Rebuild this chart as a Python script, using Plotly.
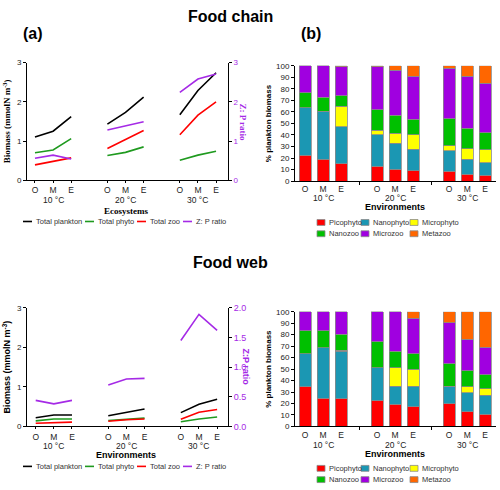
import plotly.graph_objects as go

W, H = 500, 490

groups = ["10 °C", "20 °C", "30 °C"]
envs = ["O", "M", "E"]

# ---- Food chain: biomass (mmolN m-3) and Z:P ratio ----
fc_plankton = [1.10, 1.25, 1.62, 1.43, 1.73, 2.12, 1.67, 2.29, 2.74]
fc_phyto = [0.70, 0.77, 1.06, 0.63, 0.71, 0.85, 0.51, 0.64, 0.74]
fc_zoo = [0.39, 0.48, 0.57, 0.81, 1.04, 1.27, 1.16, 1.66, 2.00]
fc_zp = [0.56, 0.64, 0.54, 1.28, 1.39, 1.49, 2.24, 2.58, 2.71]

# ---- Food web: biomass (mmolN m-3) and Z:P ratio ----
fw_plankton = [0.22, 0.29, 0.29, 0.27, 0.36, 0.44, 0.35, 0.56, 0.69]
fw_phyto = [0.14, 0.19, 0.19, 0.15, 0.18, 0.21, 0.12, 0.19, 0.24]
fw_zoo = [0.08, 0.10, 0.11, 0.13, 0.17, 0.19, 0.18, 0.36, 0.43]
fw_zp = [0.44, 0.38, 0.44, 0.70, 0.80, 0.81, 1.45, 1.89, 1.62]

line_names = ["Total plankton", "Total phyto", "Total zoo", "Z: P ratio"]
line_colors = ["#000000", "#1f9a1f", "#ff0000", "#a52ae6"]

# ---- % plankton biomass, food chain ----
fc_pico = [22.4, 19.0, 15.0, 13.0, 10.5, 9.0, 8.5, 6.0, 5.0]
fc_nano = [41.2, 41.5, 32.0, 27.0, 22.5, 18.5, 18.0, 13.0, 11.0]
fc_micro = [0.0, 0.0, 18.0, 4.0, 8.5, 12.5, 4.0, 9.0, 11.0]
fc_nanozoo = [13.0, 12.0, 9.0, 18.0, 15.5, 13.5, 23.5, 18.0, 15.0]
fc_microzoo = [23.4, 27.5, 25.0, 37.0, 39.0, 37.5, 44.0, 45.0, 43.0]
fc_metazoo = [0.0, 0.0, 1.0, 1.0, 4.0, 9.0, 2.0, 9.0, 15.0]

# ---- % plankton biomass, food web ----
fw_pico = [34.5, 24.5, 24.0, 22.5, 19.5, 17.0, 20.0, 13.0, 10.5]
fw_nano = [29.0, 44.0, 41.5, 28.5, 15.5, 18.0, 15.0, 16.5, 16.5]
fw_micro = [0.0, 0.0, 0.8, 0.0, 16.0, 15.0, 0.0, 5.0, 6.0]
fw_nanozoo = [20.0, 15.0, 14.2, 23.0, 14.5, 13.5, 19.5, 14.0, 12.0]
fw_microzoo = [16.5, 16.5, 19.5, 26.0, 34.5, 31.0, 36.0, 27.5, 24.0]
fw_metazoo = [0.0, 0.0, 0.0, 0.0, 0.0, 5.5, 9.5, 24.0, 31.0]

bar_names = ["Picophyto", "Nanophyto", "Microphyto", "Nanozoo", "Microzoo", "Metazoo"]
bar_colors = ["#ff0000", "#1b97b3", "#ffff00", "#00c000", "#a000e0", "#ff6600"]

FONT = "Liberation Sans, Arial, sans-serif"
SERIF = "Liberation Serif, Times New Roman, serif"
PURPLE = "#a52ae6"

# positions: group index * 4 + env index
xpos = [g * 4 + i for g in range(len(groups)) for i in range(len(envs))]
gcenter = [g * 4 + 1 for g in range(len(groups))]


def broken(xs, ys):
    """Insert gaps between temperature groups so lines are drawn per group."""
    ox, oy = [], []
    for k, (x, y) in enumerate(zip(xs, ys)):
        if k > 0 and k % 3 == 0:
            ox.append(None)
            oy.append(None)
        ox.append(x)
        oy.append(y)
    return ox, oy


fig = go.Figure()

# line panels
for (xa, ya, ya2, series) in [
    ("x", "y", "y5", [fc_plankton, fc_phyto, fc_zoo, fc_zp]),
    ("x3", "y3", "y6", [fw_plankton, fw_phyto, fw_zoo, fw_zp]),
]:
    for k, (name, col, vals) in enumerate(zip(line_names, line_colors, series)):
        bx, by = broken(xpos, vals)
        fig.add_trace(go.Scatter(
            x=bx, y=by, mode="lines", name=name,
            line=dict(color=col, width=1.6),
            xaxis=xa, yaxis=(ya2 if k == 3 else ya),
            connectgaps=False, showlegend=False,
        ))

# bar panels
for (xa, ya, series) in [
    ("x2", "y2", [fc_pico, fc_nano, fc_micro, fc_nanozoo, fc_microzoo, fc_metazoo]),
    ("x4", "y4", [fw_pico, fw_nano, fw_micro, fw_nanozoo, fw_microzoo, fw_metazoo]),
]:
    for name, col, vals in zip(bar_names, bar_colors, series):
        fig.add_trace(go.Bar(
            x=xpos, y=vals, name=name, width=0.66,
            marker=dict(color=col, line=dict(color="#8a8a8a", width=0.8)),
            xaxis=xa, yaxis=ya, showlegend=False,
        ))

# domains (paper fractions)
L_DOM = [0.054, 0.456]
R_DOM = [0.590, 0.992]
TOP_L = [0.635, 0.880]
TOP_R = [0.633, 0.8735]
BOT_L = [0.122, 0.369]
BOT_R = [0.122, 0.361]

tickfont = dict(family=FONT, size=8, color="#222")

xline = dict(
    tickmode="array", tickvals=xpos, ticktext=envs * 3,
    showline=True, linecolor="#000", linewidth=1, ticks="outside",
    ticklen=2, tickcolor="#000", showgrid=False, zeroline=False,
    tickfont=dict(family=FONT, size=8.5, color="#222"),
)
xbar = dict(xline)
xbar.update(ticks="", minor=dict(tickvals=[3, 7], ticks="outside", ticklen=3,
                                 tickcolor="#000", showgrid=False))

yline = dict(showline=True, linecolor="#000", linewidth=1, ticks="outside",
             ticklen=3, tickcolor="#000", showgrid=False, zeroline=False,
             tickfont=tickfont)

fig.update_layout(
    width=W, height=H, margin=dict(l=0, r=0, t=0, b=0),
    paper_bgcolor="white", plot_bgcolor="white",
    barmode="stack", bargap=0.3,
    font=dict(family=FONT, color="#222"),
    xaxis=dict(xline, domain=L_DOM, anchor="y", range=[-0.44, 10.66]),
    yaxis=dict(yline, domain=TOP_L, anchor="x", range=[0, 3], tickvals=[0, 1, 2, 3],
               title=dict(text="Biomass (mmolN m<sup>-3</sup>)", standoff=4,
                          font=dict(family=SERIF, size=9, color="#000", weight="bold"))),
    yaxis5=dict(yline, overlaying="y", side="right", anchor="x", range=[0, 3],
                tickvals=[0, 1, 2, 3], tickfont=dict(family=FONT, size=8, color=PURPLE)),
    xaxis2=dict(xbar, domain=R_DOM, anchor="y2", range=[-0.56, 10.6]),
    yaxis2=dict(yline, domain=TOP_R, anchor="x2", range=[0, 100], dtick=10,
                title=dict(text="% plankton biomass", standoff=3,
                           font=dict(family=FONT, size=8, color="#000", weight="bold"))),
    xaxis3=dict(xline, domain=L_DOM, anchor="y3", range=[-0.48, 10.6]),
    yaxis3=dict(yline, domain=BOT_L, anchor="x3", range=[0, 3], tickvals=[0, 1, 2, 3],
                title=dict(text="Biomass (mmolN m<sup>-3</sup>)", standoff=4,
                           font=dict(family=FONT, size=9, color="#000", weight="bold"))),
    yaxis6=dict(yline, overlaying="y3", side="right", anchor="x3", range=[0, 2],
                tickvals=[0, 0.5, 1, 1.5, 2], tickformat=".1f",
                tickfont=dict(family=FONT, size=9, color=PURPLE)),
    xaxis4=dict(xbar, domain=R_DOM, anchor="y4", range=[-0.56, 10.6]),
    yaxis4=dict(yline, domain=BOT_R, anchor="x4", range=[0, 100], dtick=10,
                title=dict(text="% plankton biomass", standoff=3,
                           font=dict(family=FONT, size=8, color="#000", weight="bold"))),
)

ann = []
shapes = []


def py(px):
    return 1 - px / H


def pxx(px):
    return px / W


def label(text, x, y, size, family=FONT, color="#000", xref="paper", xanchor="center",
          textangle=0):
    ann.append(dict(text=text, x=x, y=py(y), xref=xref, yref="paper", showarrow=False,
                    xanchor=xanchor, yanchor="middle", textangle=textangle,
                    font=dict(family=family, size=size, color=color)))


# headings
label("<b>Food chain</b>", pxx(230), 12, 16)
label("<b>Food web</b>", pxx(230), 263, 16)
label("<b>(a)</b>", pxx(33), 29, 16)
label("<b>(b)</b>", pxx(311), 29, 16)

# Z:P ratio titles (reading top to bottom)
label("<b>Z: P ratio</b>", pxx(243), 119, 9, family=SERIF, color=PURPLE, textangle=90)
label("<b>Z:P ratio</b>", pxx(246), 369, 9, color=PURPLE, textangle=90)

# group labels and x titles
for xa, ylab, ytit, title, tfont in [
    ("x", 199, 210, "Ecosystems", SERIF),
    ("x2", 197, 206, "Environments", FONT),
    ("x3", 450, 459, "Environments", FONT),
    ("x4", 449, 458, "Environments", FONT),
]:
    for g, gx in zip(groups, gcenter):
        label(g, gx, ylab, 8.5, color="#222", xref=xa)
    label("<b>" + title + "</b>", gcenter[1], ytit, 9, family=tfont, xref=xa)

# line legends (drawn as keys)
line_key_x = [23, 85, 137, 183]
for ly in [221, 471]:
    for name, col, lx in zip(line_names, line_colors, line_key_x):
        shapes.append(dict(type="line", xref="paper", yref="paper",
                           x0=pxx(lx), x1=pxx(lx + 9), y0=py(ly), y1=py(ly),
                           line=dict(color=col, width=1.6)))
        label(name, pxx(lx + 11), ly, 7.5, color="#333", xanchor="left")

# bar legends
bar_key_x = [317, 361, 410]
for row0 in [222, 473]:
    for k, (name, col) in enumerate(zip(bar_names, bar_colors)):
        bx = bar_key_x[k % 3]
        by = row0 + 11.5 * (k // 3)
        shapes.append(dict(type="rect", xref="paper", yref="paper",
                           x0=pxx(bx), x1=pxx(bx + 8), y0=py(by - 3), y1=py(by + 3),
                           fillcolor=col, line=dict(color="#8a8a8a", width=0.8)))
        label(name, pxx(bx + 10), by, 7.5, color="#333", xanchor="left")

fig.update_layout(annotations=ann, shapes=shapes)

fig.write_html("out.html", config={"displayModeBar": False},
               post_script="document.body.style.margin='0';")
